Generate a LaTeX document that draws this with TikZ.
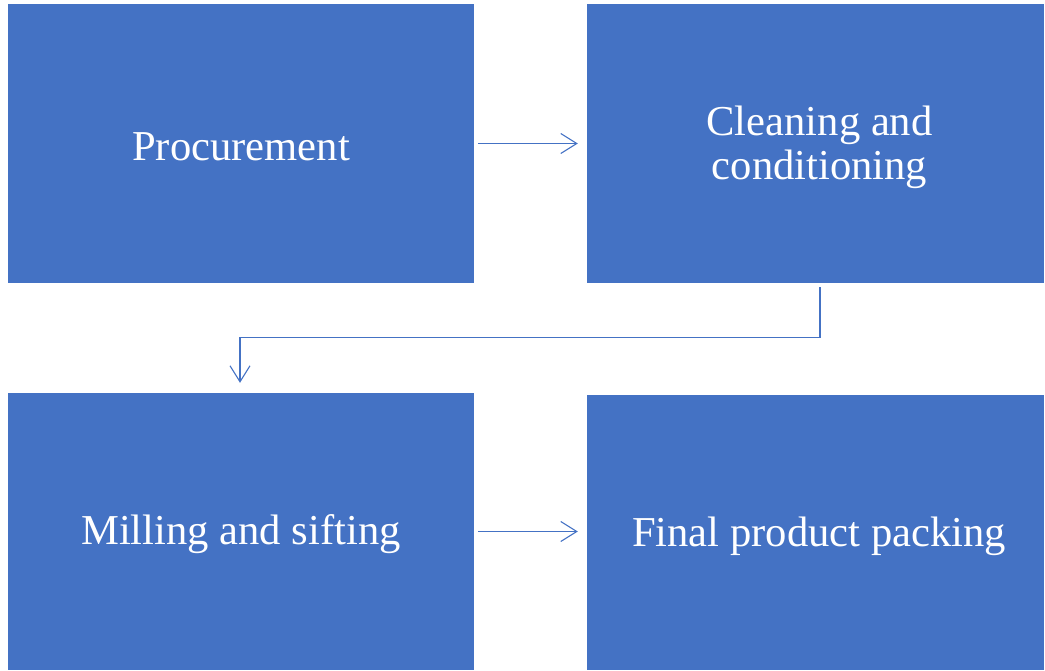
\documentclass[tikz,border=0pt]{standalone}
\usepackage{fontspec}
\setmainfont{Liberation Serif}
\usetikzlibrary{arrows.meta}
\definecolor{boxblue}{HTML}{4472C4}
\tikzset{
  stagebox/.style={fill=boxblue, draw=none, inner sep=0pt, rectangle},
  stagetext/.style={text=white, align=center, inner sep=0pt,
    font=\fontsize{42.6}{44}\selectfont},
  flowarrow/.style={draw=boxblue, line width=1.1pt, -{Straight Barb[length=16pt,width=20pt,line width=1.1pt]}}
}
\begin{document}
\begin{tikzpicture}[x=1pt,y=-1pt]
\useasboundingbox (0,0) rectangle (1045,670);
\node[stagebox, minimum width=466pt, minimum height=279pt] (b1) at (241,143.5) {};
\node[stagebox, minimum width=457pt, minimum height=279pt] (b2) at (815.5,143.5) {};
\node[stagebox, minimum width=466pt, minimum height=277pt] (b3) at (241,531.5) {};
\node[stagebox, minimum width=457pt, minimum height=275pt] (b4) at (815.5,532.5) {};
\node[stagetext] (t1) at (241,146.5) {Procurement};
\node[stagetext] (t2) at (819.5,147.5) {Cleaning and\\conditioning};
\node[stagetext] (t3) at (241,534.5) {Milling and sifting};
\node[stagetext] (t4) at (819,536) {Final product packing};
\draw[flowarrow, shorten <=4pt, shorten >=9pt] (b1.east) -- (b1.east -| b2.west);
\draw[flowarrow, shorten <=4pt, shorten >=10pt] ([xshift=4.5pt]b2.south) -- ++(0,54) -| ([xshift=-1pt]b3.north);
\draw[flowarrow, shorten <=4pt, shorten >=9pt] (b3.east) -- (b3.east -| b4.west);
\end{tikzpicture}
\end{document}
